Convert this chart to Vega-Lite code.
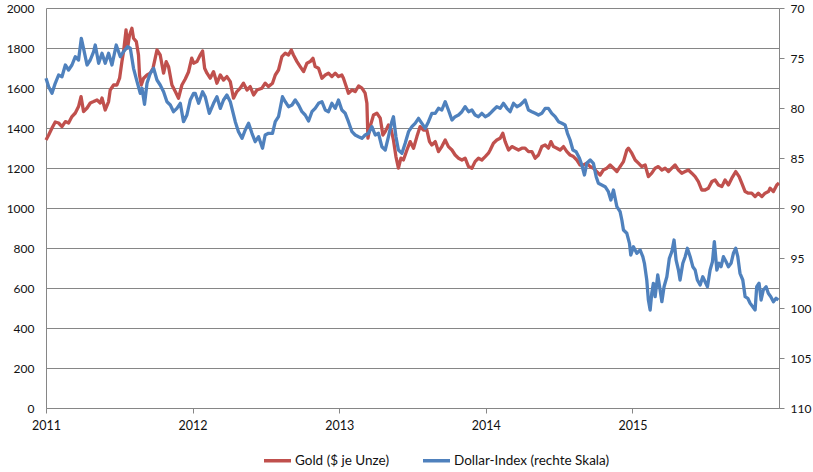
{
  "$schema": "https://vega.github.io/schema/vega-lite/v6.json",
  "width": 733,
  "height": 400,
  "autosize": {"type": "none"},
  "padding": {"left": 46, "top": 8, "right": 34, "bottom": 64},
  "background": "white",
  "config": {
    "view": {"stroke": null},
    "axis": {"labelFont": "Lato", "labelFontSize": 12, "labelColor": "#111", "domainColor": "#868686", "tickColor": "#868686", "gridColor": "#868686", "gridOpacity": 1, "title": null, "labelFlush": false}
  },
  "datasets": {
    "gold": [
      {"t":2011.000,"v":1340},{"t":2011.018,"v":1365},{"t":2011.041,"v":1400},{"t":2011.063,"v":1430},{"t":2011.086,"v":1425},{"t":2011.109,"v":1407},{"t":2011.132,"v":1432},{"t":2011.154,"v":1425},{"t":2011.177,"v":1457},{"t":2011.200,"v":1475},{"t":2011.222,"v":1507},{"t":2011.239,"v":1557},{"t":2011.256,"v":1482},{"t":2011.280,"v":1500},{"t":2011.302,"v":1525},{"t":2011.325,"v":1532},{"t":2011.348,"v":1540},{"t":2011.370,"v":1525},{"t":2011.382,"v":1550},{"t":2011.404,"v":1490},{"t":2011.427,"v":1532},{"t":2011.438,"v":1590},{"t":2011.461,"v":1615},{"t":2011.484,"v":1615},{"t":2011.502,"v":1649},{"t":2011.518,"v":1732},{"t":2011.529,"v":1782},{"t":2011.546,"v":1890},{"t":2011.556,"v":1799},{"t":2011.570,"v":1865},{"t":2011.586,"v":1899},{"t":2011.597,"v":1849},{"t":2011.616,"v":1832},{"t":2011.631,"v":1765},{"t":2011.638,"v":1665},{"t":2011.650,"v":1615},{"t":2011.666,"v":1649},{"t":2011.689,"v":1665},{"t":2011.711,"v":1674},{"t":2011.730,"v":1699},{"t":2011.745,"v":1749},{"t":2011.757,"v":1790},{"t":2011.779,"v":1765},{"t":2011.802,"v":1674},{"t":2011.820,"v":1732},{"t":2011.836,"v":1707},{"t":2011.859,"v":1615},{"t":2011.882,"v":1582},{"t":2011.904,"v":1549},{"t":2011.927,"v":1615},{"t":2011.950,"v":1645},{"t":2011.972,"v":1680},{"t":2011.994,"v":1749},
      {"t":2012.007,"v":1724},{"t":2012.030,"v":1732},{"t":2012.052,"v":1765},{"t":2012.068,"v":1785},{"t":2012.082,"v":1699},{"t":2012.098,"v":1674},{"t":2012.120,"v":1649},{"t":2012.143,"v":1682},{"t":2012.166,"v":1624},{"t":2012.189,"v":1665},{"t":2012.211,"v":1640},{"t":2012.234,"v":1657},{"t":2012.257,"v":1632},{"t":2012.279,"v":1549},{"t":2012.302,"v":1582},{"t":2012.325,"v":1599},{"t":2012.347,"v":1624},{"t":2012.371,"v":1590},{"t":2012.393,"v":1607},{"t":2012.416,"v":1565},{"t":2012.439,"v":1590},{"t":2012.473,"v":1599},{"t":2012.495,"v":1624},{"t":2012.518,"v":1607},{"t":2012.545,"v":1624},{"t":2012.564,"v":1665},{"t":2012.586,"v":1690},{"t":2012.609,"v":1757},{"t":2012.632,"v":1774},{"t":2012.654,"v":1765},{"t":2012.673,"v":1790},{"t":2012.688,"v":1765},{"t":2012.712,"v":1732},{"t":2012.734,"v":1707},{"t":2012.757,"v":1682},{"t":2012.780,"v":1724},{"t":2012.802,"v":1732},{"t":2012.821,"v":1749},{"t":2012.836,"v":1707},{"t":2012.859,"v":1699},{"t":2012.882,"v":1649},{"t":2012.905,"v":1665},{"t":2012.927,"v":1674},{"t":2012.950,"v":1657},{"t":2012.973,"v":1674},{"t":2012.995,"v":1657},
      {"t":2013.018,"v":1665},{"t":2013.029,"v":1649},{"t":2013.048,"v":1607},{"t":2013.063,"v":1574},{"t":2013.087,"v":1590},{"t":2013.109,"v":1582},{"t":2013.132,"v":1610},{"t":2013.155,"v":1599},{"t":2013.177,"v":1574},{"t":2013.189,"v":1524},{"t":2013.196,"v":1349},{"t":2013.211,"v":1407},{"t":2013.234,"v":1465},{"t":2013.257,"v":1474},{"t":2013.280,"v":1449},{"t":2013.298,"v":1365},{"t":2013.314,"v":1382},{"t":2013.336,"v":1415},{"t":2013.355,"v":1390},{"t":2013.370,"v":1340},{"t":2013.387,"v":1257},{"t":2013.404,"v":1199},{"t":2013.421,"v":1249},{"t":2013.438,"v":1240},{"t":2013.462,"v":1290},{"t":2013.484,"v":1332},{"t":2013.507,"v":1299},{"t":2013.530,"v":1357},{"t":2013.552,"v":1407},{"t":2013.575,"v":1390},{"t":2013.598,"v":1390},{"t":2013.616,"v":1332},{"t":2013.632,"v":1315},{"t":2013.655,"v":1332},{"t":2013.677,"v":1282},{"t":2013.700,"v":1307},{"t":2013.723,"v":1340},{"t":2013.745,"v":1307},{"t":2013.769,"v":1290},{"t":2013.791,"v":1265},{"t":2013.814,"v":1249},{"t":2013.837,"v":1240},{"t":2013.859,"v":1249},{"t":2013.882,"v":1207},{"t":2013.905,"v":1199},{"t":2013.927,"v":1232},{"t":2013.950,"v":1249},{"t":2013.973,"v":1240},{"t":2013.996,"v":1257},
      {"t":2014.018,"v":1274},{"t":2014.030,"v":1290},{"t":2014.052,"v":1324},{"t":2014.075,"v":1340},{"t":2014.098,"v":1349},{"t":2014.116,"v":1374},{"t":2014.132,"v":1332},{"t":2014.155,"v":1290},{"t":2014.178,"v":1307},{"t":2014.200,"v":1299},{"t":2014.223,"v":1290},{"t":2014.246,"v":1299},{"t":2014.268,"v":1299},{"t":2014.291,"v":1282},{"t":2014.314,"v":1282},{"t":2014.337,"v":1249},{"t":2014.359,"v":1265},{"t":2014.382,"v":1307},{"t":2014.405,"v":1315},{"t":2014.427,"v":1299},{"t":2014.444,"v":1332},{"t":2014.461,"v":1307},{"t":2014.485,"v":1299},{"t":2014.507,"v":1290},{"t":2014.530,"v":1307},{"t":2014.553,"v":1282},{"t":2014.575,"v":1265},{"t":2014.598,"v":1257},{"t":2014.621,"v":1240},{"t":2014.643,"v":1215},{"t":2014.666,"v":1215},{"t":2014.689,"v":1224},{"t":2014.712,"v":1207},{"t":2014.734,"v":1199},{"t":2014.757,"v":1182},{"t":2014.780,"v":1165},{"t":2014.802,"v":1190},{"t":2014.826,"v":1199},{"t":2014.848,"v":1215},{"t":2014.871,"v":1199},{"t":2014.894,"v":1182},{"t":2014.916,"v":1207},{"t":2014.939,"v":1232},{"t":2014.962,"v":1290},{"t":2014.973,"v":1299},{"t":2014.996,"v":1274},
      {"t":2015.019,"v":1240},{"t":2015.041,"v":1224},{"t":2015.064,"v":1207},{"t":2015.087,"v":1215},{"t":2015.109,"v":1157},{"t":2015.132,"v":1174},{"t":2015.155,"v":1199},{"t":2015.177,"v":1207},{"t":2015.201,"v":1190},{"t":2015.223,"v":1199},{"t":2015.246,"v":1182},{"t":2015.269,"v":1199},{"t":2015.291,"v":1215},{"t":2015.314,"v":1190},{"t":2015.337,"v":1174},{"t":2015.360,"v":1182},{"t":2015.382,"v":1190},{"t":2015.405,"v":1174},{"t":2015.428,"v":1157},{"t":2015.450,"v":1132},{"t":2015.473,"v":1090},{"t":2015.496,"v":1090},{"t":2015.518,"v":1099},{"t":2015.542,"v":1132},{"t":2015.564,"v":1140},{"t":2015.587,"v":1115},{"t":2015.610,"v":1107},{"t":2015.632,"v":1140},{"t":2015.655,"v":1115},{"t":2015.678,"v":1149},{"t":2015.705,"v":1182},{"t":2015.728,"v":1157},{"t":2015.746,"v":1124},{"t":2015.769,"v":1082},{"t":2015.791,"v":1074},{"t":2015.814,"v":1074},{"t":2015.837,"v":1057},{"t":2015.859,"v":1074},{"t":2015.883,"v":1057},{"t":2015.905,"v":1074},{"t":2015.928,"v":1082},{"t":2015.939,"v":1099},{"t":2015.962,"v":1082},{"t":2015.985,"v":1115},{"t":2016.000,"v":1125}
    ],
    "dollar": [
      {"t":2011.000,"v":77.03},{"t":2011.018,"v":77.87},{"t":2011.041,"v":78.53},{"t":2011.063,"v":77.53},{"t":2011.086,"v":76.7},{"t":2011.109,"v":76.87},{"t":2011.132,"v":75.7},{"t":2011.154,"v":76.2},{"t":2011.177,"v":75.7},{"t":2011.200,"v":74.87},{"t":2011.222,"v":75.2},{"t":2011.241,"v":73.03},{"t":2011.256,"v":74.03},{"t":2011.280,"v":75.7},{"t":2011.302,"v":75.2},{"t":2011.325,"v":74.37},{"t":2011.336,"v":73.7},{"t":2011.359,"v":75.53},{"t":2011.382,"v":74.53},{"t":2011.404,"v":75.53},{"t":2011.427,"v":74.53},{"t":2011.450,"v":75.7},{"t":2011.479,"v":73.7},{"t":2011.507,"v":74.87},{"t":2011.529,"v":74.37},{"t":2011.556,"v":73.87},{"t":2011.575,"v":74.03},{"t":2011.597,"v":76.03},{"t":2011.621,"v":77.37},{"t":2011.643,"v":78.53},{"t":2011.655,"v":78.03},{"t":2011.672,"v":79.63},{"t":2011.689,"v":77.53},{"t":2011.711,"v":76.53},{"t":2011.734,"v":76.03},{"t":2011.757,"v":77.2},{"t":2011.779,"v":77.7},{"t":2011.802,"v":78.37},{"t":2011.825,"v":79.37},{"t":2011.848,"v":79.7},{"t":2011.870,"v":80.37},{"t":2011.893,"v":80.03},{"t":2011.916,"v":79.53},{"t":2011.938,"v":81.37},{"t":2011.961,"v":80.7},{"t":2011.984,"v":79.2},
      {"t":2012.007,"v":78.53},{"t":2012.018,"v":78.53},{"t":2012.041,"v":79.53},{"t":2012.068,"v":78.37},{"t":2012.086,"v":78.87},{"t":2012.114,"v":80.53},{"t":2012.143,"v":79.53},{"t":2012.166,"v":78.87},{"t":2012.189,"v":80.03},{"t":2012.211,"v":79.2},{"t":2012.234,"v":78.7},{"t":2012.257,"v":79.37},{"t":2012.291,"v":81.37},{"t":2012.313,"v":82.37},{"t":2012.337,"v":83.03},{"t":2012.359,"v":82.2},{"t":2012.382,"v":81.53},{"t":2012.405,"v":82.53},{"t":2012.427,"v":83.37},{"t":2012.450,"v":82.87},{"t":2012.477,"v":84.03},{"t":2012.495,"v":82.7},{"t":2012.518,"v":82.53},{"t":2012.545,"v":82.53},{"t":2012.564,"v":81.37},{"t":2012.586,"v":80.87},{"t":2012.613,"v":78.87},{"t":2012.632,"v":79.37},{"t":2012.654,"v":79.87},{"t":2012.678,"v":79.7},{"t":2012.700,"v":79.2},{"t":2012.723,"v":79.7},{"t":2012.746,"v":80.37},{"t":2012.768,"v":80.7},{"t":2012.791,"v":81.3},{"t":2012.814,"v":80.37},{"t":2012.836,"v":80.03},{"t":2012.859,"v":79.53},{"t":2012.882,"v":79.37},{"t":2012.905,"v":80.2},{"t":2012.927,"v":80.37},{"t":2012.950,"v":79.53},{"t":2012.973,"v":80.03},{"t":2012.995,"v":79.2},
      {"t":2013.018,"v":80.2},{"t":2013.041,"v":80.53},{"t":2013.063,"v":81.37},{"t":2013.087,"v":82.37},{"t":2013.109,"v":82.7},{"t":2013.132,"v":82.87},{"t":2013.155,"v":83.03},{"t":2013.177,"v":82.7},{"t":2013.200,"v":82.53},{"t":2013.223,"v":81.87},{"t":2013.246,"v":82.7},{"t":2013.268,"v":82.53},{"t":2013.291,"v":83.87},{"t":2013.314,"v":84.2},{"t":2013.336,"v":82.87},{"t":2013.359,"v":81.37},{"t":2013.370,"v":80.87},{"t":2013.387,"v":82.87},{"t":2013.404,"v":84.2},{"t":2013.428,"v":84.53},{"t":2013.450,"v":83.53},{"t":2013.473,"v":82.37},{"t":2013.496,"v":81.87},{"t":2013.518,"v":81.53},{"t":2013.541,"v":81.03},{"t":2013.564,"v":81.53},{"t":2013.587,"v":82.03},{"t":2013.609,"v":81.37},{"t":2013.632,"v":80.53},{"t":2013.655,"v":80.53},{"t":2013.677,"v":80.03},{"t":2013.700,"v":80.2},{"t":2013.723,"v":79.37},{"t":2013.745,"v":80.2},{"t":2013.769,"v":81.2},{"t":2013.791,"v":80.87},{"t":2013.814,"v":80.7},{"t":2013.837,"v":80.37},{"t":2013.859,"v":79.87},{"t":2013.882,"v":80.37},{"t":2013.905,"v":80.2},{"t":2013.927,"v":80.7},{"t":2013.950,"v":80.87},{"t":2013.973,"v":80.53},{"t":2013.996,"v":80.87},
      {"t":2014.018,"v":80.7},{"t":2014.030,"v":80.53},{"t":2014.052,"v":80.2},{"t":2014.075,"v":79.87},{"t":2014.098,"v":80.03},{"t":2014.120,"v":79.53},{"t":2014.144,"v":80.03},{"t":2014.166,"v":80.37},{"t":2014.189,"v":79.53},{"t":2014.212,"v":79.87},{"t":2014.234,"v":79.7},{"t":2014.257,"v":79.37},{"t":2014.268,"v":79.2},{"t":2014.291,"v":80.2},{"t":2014.314,"v":80.37},{"t":2014.337,"v":80.53},{"t":2014.359,"v":80.7},{"t":2014.382,"v":80.53},{"t":2014.405,"v":80.03},{"t":2014.427,"v":80.03},{"t":2014.450,"v":80.53},{"t":2014.473,"v":80.87},{"t":2014.496,"v":81.37},{"t":2014.519,"v":81.53},{"t":2014.541,"v":81.7},{"t":2014.557,"v":82.53},{"t":2014.575,"v":83.2},{"t":2014.594,"v":84.2},{"t":2014.616,"v":84.37},{"t":2014.639,"v":85.03},{"t":2014.655,"v":85.7},{"t":2014.673,"v":86.7},{"t":2014.689,"v":85.53},{"t":2014.712,"v":85.2},{"t":2014.734,"v":85.53},{"t":2014.753,"v":86.87},{"t":2014.768,"v":87.53},{"t":2014.791,"v":87.7},{"t":2014.814,"v":87.87},{"t":2014.836,"v":88.37},{"t":2014.853,"v":89.2},{"t":2014.871,"v":88.2},{"t":2014.894,"v":89.87},{"t":2014.916,"v":90.37},{"t":2014.928,"v":91.2},{"t":2014.939,"v":92.2},{"t":2014.962,"v":92.53},{"t":2014.980,"v":93.53},{"t":2014.989,"v":94.7},
      {"t":2015.007,"v":93.87},{"t":2015.030,"v":94.53},{"t":2015.053,"v":94.2},{"t":2015.071,"v":94.87},{"t":2015.082,"v":95.53},{"t":2015.098,"v":97.2},{"t":2015.109,"v":99.2},{"t":2015.121,"v":100.2},{"t":2015.132,"v":98.53},{"t":2015.143,"v":97.53},{"t":2015.155,"v":98.87},{"t":2015.173,"v":96.7},{"t":2015.189,"v":98.2},{"t":2015.201,"v":99.37},{"t":2015.216,"v":97.87},{"t":2015.235,"v":96.87},{"t":2015.252,"v":95.03},{"t":2015.269,"v":94.37},{"t":2015.284,"v":93.2},{"t":2015.298,"v":95.2},{"t":2015.314,"v":96.2},{"t":2015.325,"v":97.2},{"t":2015.344,"v":95.53},{"t":2015.360,"v":94.87},{"t":2015.375,"v":94.03},{"t":2015.394,"v":94.87},{"t":2015.412,"v":95.87},{"t":2015.428,"v":96.2},{"t":2015.443,"v":97.2},{"t":2015.462,"v":97.7},{"t":2015.480,"v":96.87},{"t":2015.496,"v":97.37},{"t":2015.512,"v":97.87},{"t":2015.530,"v":96.2},{"t":2015.546,"v":95.37},{"t":2015.559,"v":93.37},{"t":2015.576,"v":96.2},{"t":2015.591,"v":95.53},{"t":2015.605,"v":95.87},{"t":2015.621,"v":94.87},{"t":2015.639,"v":95.37},{"t":2015.655,"v":95.87},{"t":2015.673,"v":95.53},{"t":2015.689,"v":94.53},{"t":2015.705,"v":94.03},{"t":2015.719,"v":94.87},{"t":2015.734,"v":96.53},{"t":2015.753,"v":97.2},{"t":2015.769,"v":98.87},{"t":2015.787,"v":99.03},{"t":2015.803,"v":99.53},{"t":2015.821,"v":99.87},{"t":2015.837,"v":100.2},{"t":2015.848,"v":97.87},{"t":2015.864,"v":97.53},{"t":2015.878,"v":99.2},{"t":2015.893,"v":98.2},{"t":2015.912,"v":97.87},{"t":2015.927,"v":98.53},{"t":2015.944,"v":98.87},{"t":2015.962,"v":99.37},{"t":2015.980,"v":99.03},{"t":2015.996,"v":99.2}
    ]
  },
  "encoding": {
    "x": {
      "field": "t", "type": "quantitative",
      "scale": {"domain": [2011, 2016], "nice": false, "zero": false},
      "axis": {"values": [2011, 2012, 2013, 2014, 2015], "format": "d", "grid": false, "tickSize": 5, "labelPadding": 6, "labelFontSize": 12.5, "labelFlush": false}
    }
  },
  "layer": [
    {
      "data": {"name": "gold"},
      "mark": {"type": "line", "strokeWidth": 3.3, "strokeJoin": "round"},
      "encoding": {
        "y": {
          "field": "v", "type": "quantitative",
          "scale": {"domain": [0, 2000], "nice": false},
          "axis": {"orient": "left", "values": [0, 200, 400, 600, 800, 1000, 1200, 1400, 1600, 1800, 2000], "grid": true, "ticks": false, "labelPadding": 12, "format": "d"}
        },
        "color": {
          "datum": "Gold ($ je Unze)",
          "scale": {"domain": ["Gold ($ je Unze)", "Dollar-Index (rechte Skala)"], "range": ["#C0504D", "#4F81BD"]},
          "legend": {"title": null, "orient": "none", "legendX": 216, "legendY": 437, "direction": "horizontal", "symbolType": "stroke", "symbolStrokeWidth": 3.5, "symbolSize": 729, "labelFont": "Lato", "labelFontSize": 13.5, "labelColor": "#111", "labelOffset": 2, "columnPadding": 26}
        }
      }
    },
    {
      "data": {"name": "dollar"},
      "mark": {"type": "line", "strokeWidth": 3.3, "strokeJoin": "round"},
      "encoding": {
        "y": {
          "field": "v", "type": "quantitative",
          "scale": {"domain": [70, 110], "nice": false, "zero": false, "reverse": true},
          "axis": {"orient": "right", "values": [70, 75, 80, 85, 90, 95, 100, 105, 110], "grid": false, "tickSize": 5, "labelPadding": 6}
        },
        "color": {"datum": "Dollar-Index (rechte Skala)"}
      }
    }
  ],
  "resolve": {"scale": {"y": "independent"}}
}
